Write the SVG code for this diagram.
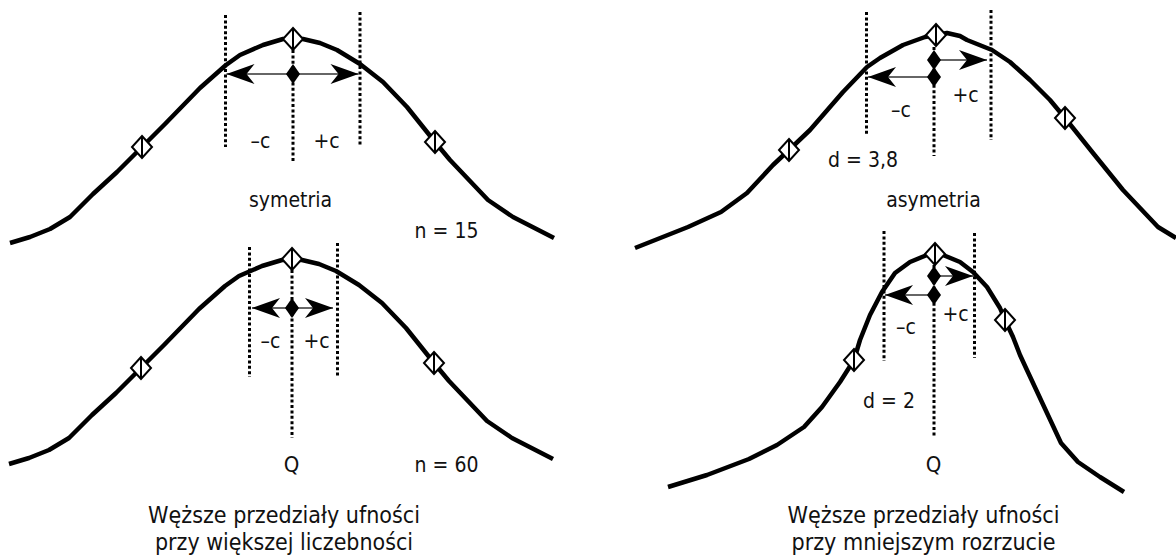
<svg xmlns="http://www.w3.org/2000/svg" xmlns:xlink="http://www.w3.org/1999/xlink" width="1176" height="556" viewBox="0 0 1176 556">
<style>
.curve{fill:none;stroke:#000;stroke-width:4.5;stroke-linejoin:round;stroke-linecap:butt}
.dot{stroke:#000;stroke-width:3;stroke-dasharray:3 2.4;fill:none}
.arr{stroke:#333;stroke-width:1.3;fill:none;marker-end:url(#ah)}
.od{fill:#fff;stroke:#000;stroke-width:2}
text{font-family:'DejaVu Sans Condensed','DejaVu Sans',sans-serif;font-size:21px;fill:#111;text-anchor:middle}
.cap{font-size:23px}
.q{font-size:22px}
</style>
<defs>
<marker id="ah" markerUnits="userSpaceOnUse" viewBox="-30 -11 32 22" markerWidth="32" markerHeight="22" refX="0" refY="0" orient="auto"><path d="M0,0 L-28,-10 L-20,0 L-28,10 Z" fill="#000"/></marker>
<g id="odia"><path d="M0,-11 L10,0 L0,11 L-10,0 Z" class="od"/><line x1="0" y1="-11" x2="0" y2="11" stroke="#000" stroke-width="2"/></g>
<path id="fdia" d="M0,-10 L7,0 L0,10 L-7,0 Z" fill="#000"/>
<polyline id="c1" points="10,243 30,237 50,229 70,217 93,194 117,172 142,147 165,124 200,88 226,65 240,55 263,45 283,39 303,39 320,43 337,50 360,64 383,82 407,107 435,142 450,160 488,200 513,217 554,238"/>
</defs>

<g id="panel-symmetry">
  <use xlink:href="#c1" class="curve"/>
  <line class="dot" x1="225.5" y1="15" x2="225.5" y2="147"/>
  <line class="dot" x1="360" y1="12" x2="360" y2="147"/>
  <line class="dot" x1="293" y1="50" x2="293" y2="163"/>
  <use xlink:href="#odia" x="293" y="39"/>
  <use xlink:href="#odia" x="142" y="147"/>
  <use xlink:href="#odia" x="435" y="142"/>
  <text x="260.5" y="148">–c</text>
  <text x="326.5" y="148">+c</text>
  <text x="290.5" y="207">symetria</text>
  <text x="446.5" y="238">n = 15</text>
</g>

<g id="panel-n60">
  <use xlink:href="#c1" class="curve" transform="translate(-1,221)"/>
  <line class="dot" x1="249.5" y1="247" x2="249.5" y2="377"/>
  <line class="dot" x1="337.5" y1="243" x2="337.5" y2="377"/>
  <line class="dot" x1="292" y1="270" x2="292" y2="438"/>
  <use xlink:href="#odia" x="292" y="259"/>
  <use xlink:href="#odia" x="141" y="368"/>
  <use xlink:href="#odia" x="434" y="363"/>
  <text x="270.5" y="348">–c</text>
  <text x="316.5" y="348">+c</text>
  <text class="q" x="291.5" y="472">Q</text>
  <text x="446.5" y="472">n = 60</text>
  <text class="cap" x="284" y="523" textLength="272" lengthAdjust="spacingAndGlyphs">Węższe przedziały ufności</text>
  <text class="cap" x="284" y="550" textLength="258" lengthAdjust="spacingAndGlyphs">przy większej liczebności</text>
</g>

<g id="panel-asymmetry">
  <polyline class="curve" points="635,248 688,227 721,212 747,193 773,165 789,150 810,130 843,92 867,67 880,58 903,45 925,37 947,33 960,36 967,40 992,50 1010,62 1030,80 1050,100 1065,118 1093,153 1123,190 1158,227 1176,238"/>
  <line class="dot" x1="866.5" y1="12" x2="866.5" y2="135"/>
  <line class="dot" x1="991" y1="10" x2="991" y2="140"/>
  <line class="dot" x1="934" y1="47" x2="934" y2="156"/>
  <use xlink:href="#odia" x="936" y="35"/>
  <use xlink:href="#odia" x="789" y="150"/>
  <use xlink:href="#odia" x="1065" y="118"/>
  <text x="901" y="117">–c</text>
  <text x="965.5" y="102">+c</text>
  <text x="863" y="167">d = 3,8</text>
  <text x="933.5" y="207">asymetria</text>
</g>

<g id="panel-d2">
  <polyline class="curve" points="668,487 707,475 749,459 777,445 804,427 822,407 840,382 854,360 860,340 870,315 882,292 895,273 910,262 927,255 943,255 960,262 973,272 987,287 1000,308 1005,320 1013,337 1020,355 1026,368 1047,413 1061,443 1078,462 1100,477 1124,492"/>
  <line class="dot" x1="884" y1="231" x2="884" y2="361"/>
  <line class="dot" x1="974.5" y1="233" x2="974.5" y2="358"/>
  <line class="dot" x1="934" y1="265" x2="934" y2="437"/>
  <use xlink:href="#odia" x="935" y="254"/>
  <use xlink:href="#odia" x="854" y="360"/>
  <use xlink:href="#odia" x="1005" y="320"/>
  <text x="955.5" y="321">+c</text>
  <text x="906" y="334">–c</text>
  <text x="889" y="408">d = 2</text>
  <text class="q" x="933.5" y="472">Q</text>
  <text class="cap" x="923.5" y="523" textLength="272" lengthAdjust="spacingAndGlyphs">Węższe przedziały ufności</text>
  <text class="cap" x="923.5" y="550" textLength="264" lengthAdjust="spacingAndGlyphs">przy mniejszym rozrzucie</text>
</g>

<g id="connectors">
  <line class="arr" x1="293" y1="74" x2="226.5" y2="74"/>
  <line class="arr" x1="293" y1="74" x2="358.5" y2="74"/>
  <line class="arr" x1="292" y1="308" x2="252" y2="308"/>
  <line class="arr" x1="292" y1="308" x2="333" y2="308"/>
  <line class="arr" x1="934" y1="60" x2="987" y2="60"/>
  <line class="arr" x1="934" y1="77" x2="868" y2="77"/>
  <line class="arr" x1="934" y1="276" x2="973" y2="276"/>
  <line class="arr" x1="934" y1="295" x2="885" y2="295"/>
</g>

<g id="estimates">
  <use xlink:href="#fdia" x="293" y="74"/>
  <use xlink:href="#fdia" x="292" y="308"/>
  <use xlink:href="#fdia" x="934" y="60"/>
  <use xlink:href="#fdia" x="934" y="77"/>
  <use xlink:href="#fdia" x="934" y="276"/>
  <use xlink:href="#fdia" x="934" y="295"/>
</g>
</svg>
